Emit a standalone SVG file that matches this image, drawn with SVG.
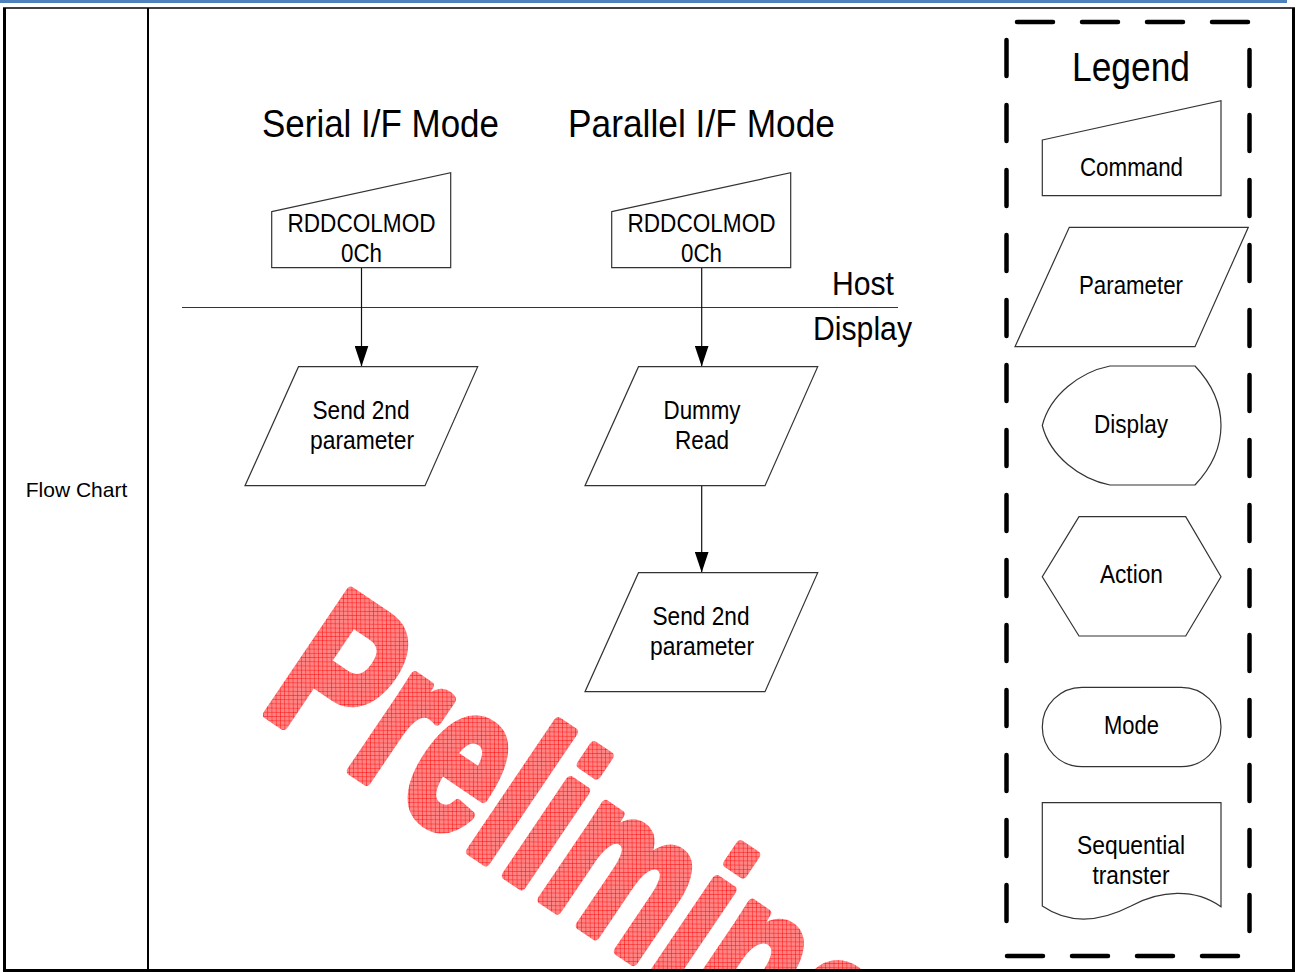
<svg xmlns="http://www.w3.org/2000/svg" width="1297" height="972" viewBox="0 0 1297 972">
<style>
  .shape { fill: #ffffff; stroke: #333333; stroke-width: 1.2; }
  .conn { fill: none; stroke: #111111; stroke-width: 1.2; }
  .t { font-family: "Liberation Sans", Arial, sans-serif; fill: #000000; text-anchor: middle; }
  .s25 { font-size: 25px; }
  .dash { fill: none; stroke: #000000; stroke-width: 4.5; stroke-linecap: round; stroke-dasharray: 36 29; }
</style>
<defs>
  <marker id="arrowDown" markerUnits="userSpaceOnUse" markerWidth="21" markerHeight="14" viewBox="0 0 21 14" refX="21" refY="7" orient="auto">
    <path d="M0,0 L21,7 L0,14 Z" fill="#000000"/>
  </marker>
  <pattern id="hatch" patternUnits="userSpaceOnUse" width="4.3" height="4.3" patternTransform="scale(1,0.6757) rotate(-34)">
    <rect width="4.3" height="4.3" fill="#ff8585"/>
    <path d="M0,0 H4.3 M0,0 V4.3" stroke="#ff0000" stroke-width="0.9"/>
  </pattern>
  <clipPath id="pageClip">
    <rect x="150" y="10" width="1140" height="959"/>
  </clipPath>
</defs>

<rect width="1297" height="972" fill="#ffffff"/>

<g id="watermark" clip-path="url(#pageClip)">
  <text x="-8" y="-3" transform="translate(263,716) rotate(34) scale(1,1.45)" font-family="'Liberation Sans', Arial, sans-serif" font-weight="bold" font-size="148" letter-spacing="2" fill="url(#hatch)" stroke="url(#hatch)" stroke-width="7" stroke-linejoin="round">Preliminary</text>
</g>

<g id="frame">
  <rect x="0" y="0" width="1287" height="3" fill="#4f81bd"/>
  <line x1="3" y1="8" x2="1295" y2="8" stroke="#000" stroke-width="1.6"/>
  <line x1="4.5" y1="8" x2="4.5" y2="972" stroke="#000" stroke-width="3"/>
  <line x1="1293.5" y1="8" x2="1293.5" y2="972" stroke="#000" stroke-width="3"/>
  <line x1="3" y1="970.5" x2="1295" y2="970.5" stroke="#000" stroke-width="3"/>
  <line x1="148" y1="8" x2="148" y2="970" stroke="#000" stroke-width="2"/>
  <text class="t" x="76.5" y="497" font-size="21">Flow Chart</text>
</g>

<g id="titles">
  <text class="t" x="380.5" y="137" font-size="39" textLength="237" lengthAdjust="spacingAndGlyphs">Serial I/F Mode</text>
  <text class="t" x="701.5" y="137" font-size="39" textLength="267" lengthAdjust="spacingAndGlyphs">Parallel I/F Mode</text>
</g>

<g id="host-display">
  <line x1="182" y1="307.5" x2="898" y2="307.5" stroke="#333" stroke-width="1.2"/>
  <text class="t" x="863" y="295" font-size="34" textLength="62" lengthAdjust="spacingAndGlyphs">Host</text>
  <text class="t" x="862.5" y="340" font-size="34" textLength="99" lengthAdjust="spacingAndGlyphs">Display</text>
</g>

<g id="connectors">
  <line class="conn" x1="361.5" y1="268" x2="361.5" y2="366.5" marker-end="url(#arrowDown)"/>
  <line class="conn" x1="701.7" y1="268" x2="701.7" y2="366.5" marker-end="url(#arrowDown)"/>
  <line class="conn" x1="701.7" y1="486" x2="701.7" y2="572.5" marker-end="url(#arrowDown)"/>
</g>

<g id="serial-cmd">
  <path class="shape" d="M271.7,211.7 L450.7,172.7 L450.7,267.7 L271.7,267.7 Z"/>
  <text class="t s25" x="361.5" y="232" textLength="148" lengthAdjust="spacingAndGlyphs">RDDCOLMOD</text>
  <text class="t s25" x="361.5" y="262" textLength="41" lengthAdjust="spacingAndGlyphs">0Ch</text>
</g>

<g id="parallel-cmd">
  <path class="shape" d="M611.7,211.7 L790.7,172.7 L790.7,267.7 L611.7,267.7 Z"/>
  <text class="t s25" x="701.5" y="232" textLength="148" lengthAdjust="spacingAndGlyphs">RDDCOLMOD</text>
  <text class="t s25" x="701.5" y="262" textLength="41" lengthAdjust="spacingAndGlyphs">0Ch</text>
</g>

<g id="serial-send">
  <path class="shape" d="M298.5,366.7 L477.7,366.7 L425,485.7 L245,485.7 Z"/>
  <text class="t s25" x="361" y="419" textLength="97" lengthAdjust="spacingAndGlyphs">Send 2nd</text>
  <text class="t s25" x="362" y="449" textLength="104" lengthAdjust="spacingAndGlyphs">parameter</text>
</g>

<g id="dummy-read">
  <path class="shape" d="M638.5,366.7 L817.7,366.7 L765,485.7 L585,485.7 Z"/>
  <text class="t s25" x="702" y="419" textLength="77" lengthAdjust="spacingAndGlyphs">Dummy</text>
  <text class="t s25" x="702" y="449" textLength="54" lengthAdjust="spacingAndGlyphs">Read</text>
</g>

<g id="parallel-send">
  <path class="shape" d="M638.5,572.7 L817.7,572.7 L765,691.7 L585,691.7 Z"/>
  <text class="t s25" x="701" y="625" textLength="97" lengthAdjust="spacingAndGlyphs">Send 2nd</text>
  <text class="t s25" x="702" y="655" textLength="104" lengthAdjust="spacingAndGlyphs">parameter</text>
</g>

<g id="legend-box">
  <line class="dash" x1="1017" y1="22" x2="1252" y2="22"/>
  <line class="dash" x1="1007" y1="956" x2="1245" y2="956"/>
  <line class="dash" x1="1006.5" y1="40" x2="1006.5" y2="930"/>
  <line class="dash" x1="1249.5" y1="50" x2="1249.5" y2="940"/>
  <text class="t" x="1131" y="81" font-size="40" textLength="118" lengthAdjust="spacingAndGlyphs">Legend</text>
</g>

<g id="legend-command">
  <path class="shape" d="M1042.3,140 L1221,100.7 L1221,195.7 L1042.3,195.7 Z"/>
  <text class="t s25" x="1131.5" y="175.7" textLength="103" lengthAdjust="spacingAndGlyphs">Command</text>
</g>

<g id="legend-parameter">
  <path class="shape" d="M1069.3,227.3 L1248.3,227.3 L1195,346.7 L1015,346.7 Z"/>
  <text class="t s25" x="1131" y="294" textLength="104" lengthAdjust="spacingAndGlyphs">Parameter</text>
</g>

<g id="legend-display">
  <path class="shape" d="M1110,366 H1195 C1212,384 1221,404 1221,425.5 C1221,447 1212,467 1195,485 H1110 C1080,479 1050,456 1042.3,425.5 C1050,395 1080,372 1110,366 Z"/>
  <text class="t s25" x="1131" y="433" textLength="74" lengthAdjust="spacingAndGlyphs">Display</text>
</g>

<g id="legend-action">
  <path class="shape" d="M1079,516.7 L1185.7,516.7 L1221,576.7 L1185.7,636 L1079,636 L1042.3,576.7 Z"/>
  <text class="t s25" x="1131.4" y="582.7" textLength="63" lengthAdjust="spacingAndGlyphs">Action</text>
</g>

<g id="legend-mode">
  <rect class="shape" x="1042.3" y="687.3" width="178.7" height="79.4" rx="39.7" ry="39.7"/>
  <text class="t s25" x="1131.5" y="734" textLength="55" lengthAdjust="spacingAndGlyphs">Mode</text>
</g>

<g id="legend-sequential">
  <path class="shape" d="M1042.3,802.7 H1221 V906.7 C1195,888 1160,890 1131,906 C1100,922 1070,925 1042.3,906 Z"/>
  <text class="t s25" x="1131" y="853.5" textLength="108" lengthAdjust="spacingAndGlyphs">Sequential</text>
  <text class="t s25" x="1131" y="883.5" textLength="77" lengthAdjust="spacingAndGlyphs">transter</text>
</g>
</svg>
